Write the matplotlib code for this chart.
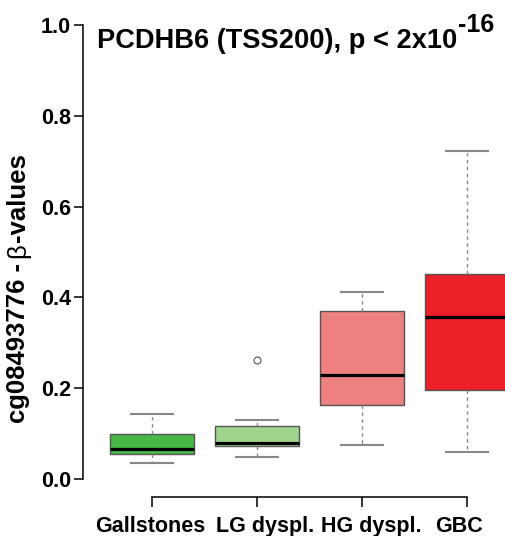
import matplotlib
matplotlib.use("Agg")
import matplotlib.pyplot as plt
import matplotlib.transforms as mtransforms

# data
groups = ["Gallstones", "LG dyspl.", "HG dyspl.", "GBC"]
whislo = [0.036, 0.049, 0.075, 0.059]
q1 = [0.054, 0.073, 0.1625, 0.197]
med = [0.065, 0.080, 0.230, 0.357]
q3 = [0.099, 0.117, 0.371, 0.4525]
whishi = [0.143, 0.129, 0.411, 0.724]
fliers = [[], [0.263], [], []]
colors = ["#47b844", "#9fd48c", "#ed8080", "#ec1f27"]
yticks = [0.0, 0.2, 0.4, 0.6, 0.8, 1.0]
# group labels are nudged sideways in the original so they don't collide
label_x = [0.985, 2.08, 3.09, 3.93]

plt.rcParams["font.family"] = ["Liberation Sans", "DejaVu Sans"]

W, H = 505, 536
fig = plt.figure(figsize=(W / 100, H / 100), dpi=100)
ax = fig.add_axes([82.7 / W, (H - 497) / H, (536 - 82.7) / W, (497 - 7.2) / H])

stats = []
for i in range(len(groups)):
    stats.append(dict(label=groups[i], whislo=whislo[i], q1=q1[i], med=med[i],
                      q3=q3[i], whishi=whishi[i], fliers=fliers[i]))

bp = ax.bxp(stats, positions=[1, 2, 3, 4], widths=0.8, capwidths=0.4,
            patch_artist=True, showfliers=True,
            boxprops=dict(edgecolor="#555555", linewidth=1.0),
            medianprops=dict(color="black", linewidth=2.3, solid_capstyle="butt"),
            whiskerprops=dict(color="#888888", linewidth=1.0, linestyle=(0, (2.5, 2.5))),
            capprops=dict(color="#888888", linewidth=1.5),
            flierprops=dict(marker="o", markersize=5, markerfacecolor="none",
                            markeredgecolor="#666666", markeredgewidth=0.9))
for patch, c in zip(bp["boxes"], colors):
    patch.set_facecolor(c)

ax.set_xlim(0.34, 4.66)
ax.set_ylim(-0.04, 1.04)
ax.spines["top"].set_visible(False)
ax.spines["right"].set_visible(False)
ax.spines["left"].set_bounds(0, 1)
ax.spines["bottom"].set_bounds(1, 4)
for s in ("left", "bottom"):
    ax.spines[s].set_linewidth(1.1)

ax.set_yticks(yticks)
ax.set_yticklabels(["%.1f" % v for v in yticks], fontsize=15.5, fontweight="bold")
ax.set_xticks([1, 2, 3, 4])
ax.set_xticklabels([])
ax.tick_params(axis="y", length=6.5, width=1.1, pad=2)
ax.tick_params(axis="x", length=7, width=1.1)

trans = mtransforms.blended_transform_factory(ax.transData, fig.transFigure)
for x, g in zip(label_x, groups):
    ax.text(x, (H - 531.7) / H, g, transform=trans, fontsize=15.5,
            fontweight="bold", ha="center", va="baseline", clip_on=False)

# title with superscript
title = fig.text(96.7 / W, (H - 48.3) / H, "PCDHB6 (TSS200), p < 2x10",
                 fontsize=19.6, fontweight="bold", ha="left", va="baseline")
fig.canvas.draw()
r = fig.canvas.get_renderer()
ext = title.get_window_extent(r)
fig.text((ext.x1 + 1) / W, (H - 32) / H, "-16", fontsize=18,
         fontweight="bold", ha="left", va="baseline")

# y label in three pieces (beta in regular weight)
lx = 25 / W
fs = 18.5
t1 = fig.text(lx, (H - 423) / H, "cg08493776 -", fontsize=fs, fontweight="bold",
              rotation=90, rotation_mode="anchor", ha="left", va="baseline")
fig.canvas.draw()
e1 = t1.get_window_extent(r)
t2 = fig.text(lx, (e1.y1 + 5) / H, "\u03b2", fontsize=fs, fontweight="normal",
              rotation=90, rotation_mode="anchor", ha="left", va="baseline")
fig.canvas.draw()
e2 = t2.get_window_extent(r)
fig.text(lx, (e2.y1 + 1) / H, "-values", fontsize=fs, fontweight="bold",
         rotation=90, rotation_mode="anchor", ha="left", va="baseline")

fig.savefig("out.png", dpi=100)
